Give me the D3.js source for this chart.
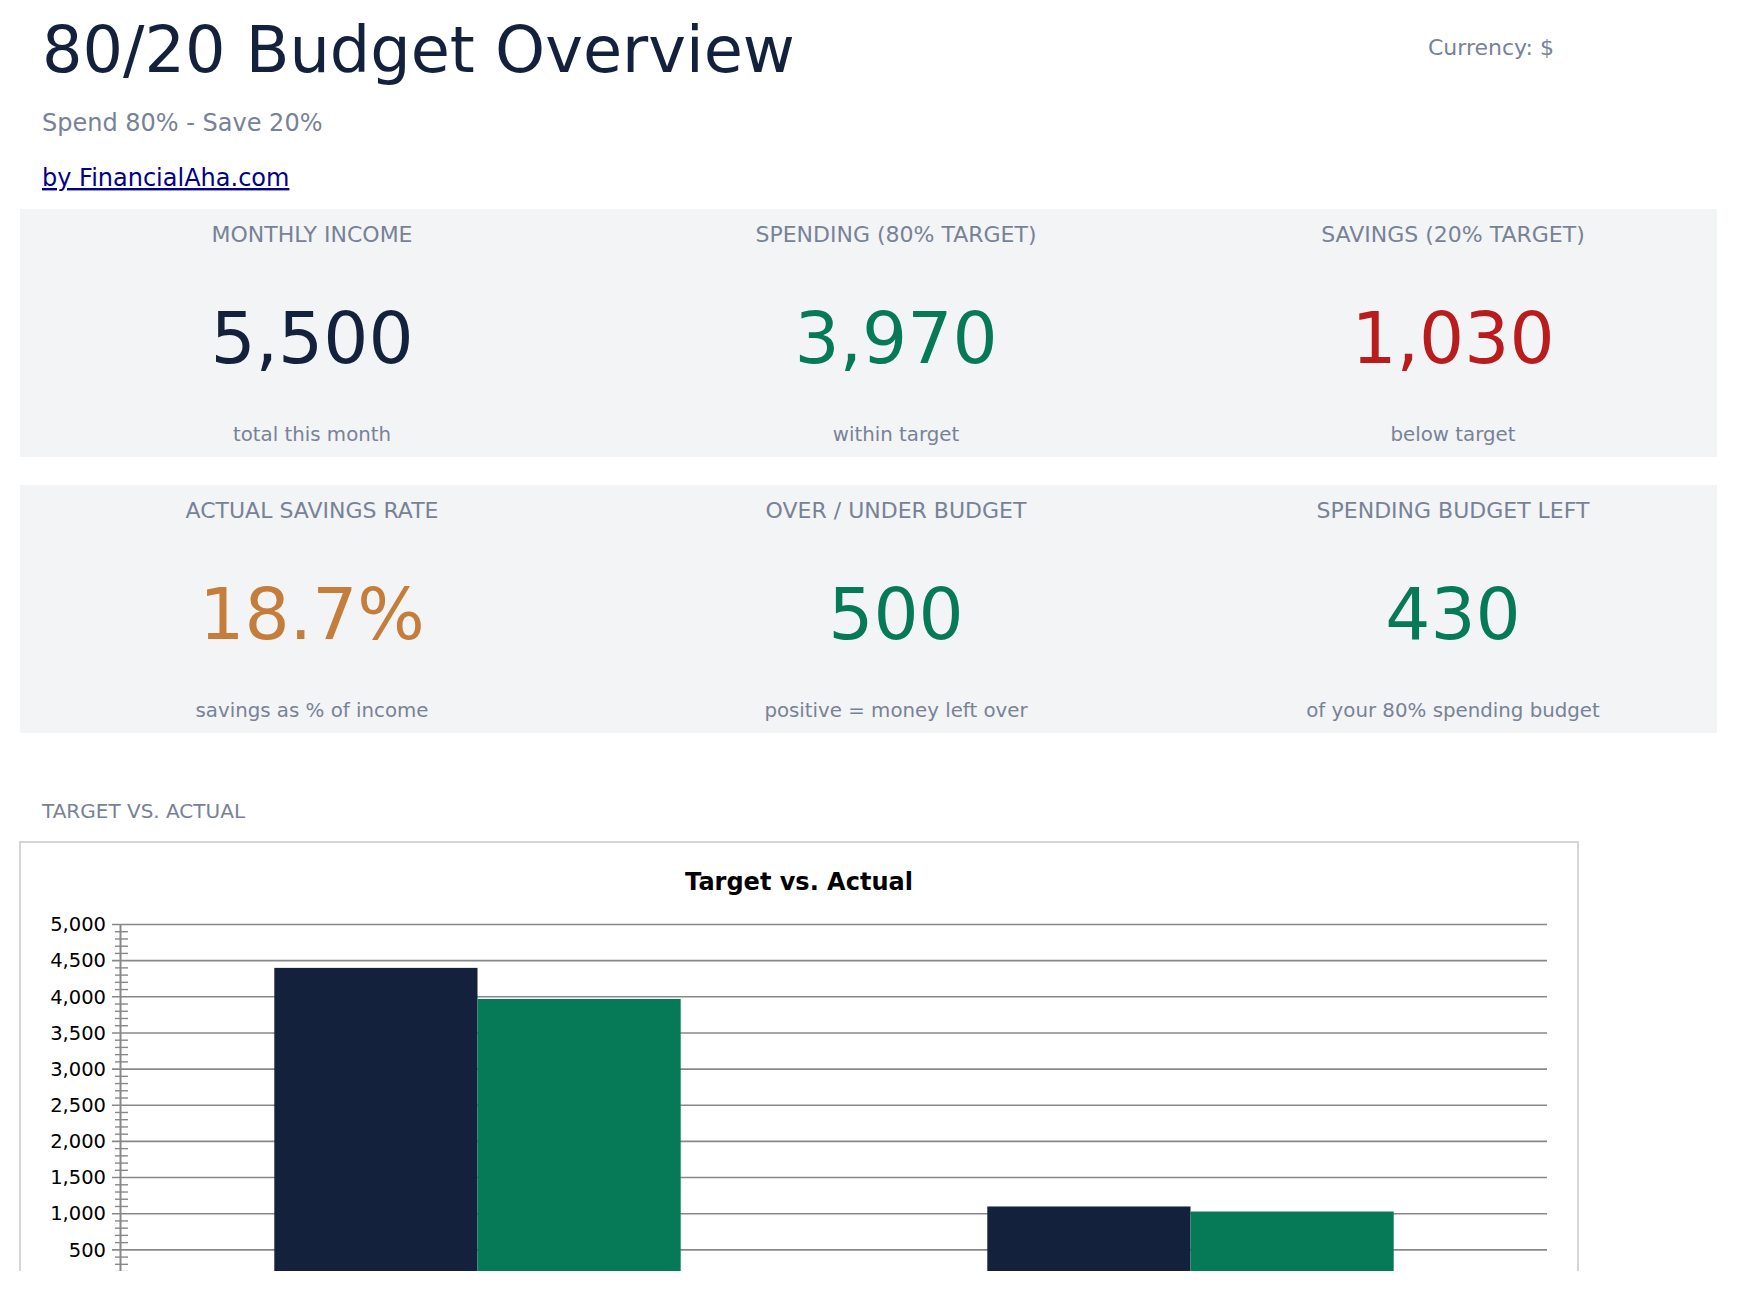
<!DOCTYPE html>
<html>
<head>
<meta charset="utf-8">
<title>80/20 Budget Overview</title>
<script src="https://cdn.jsdelivr.net/npm/d3@7"></script>
<style>
  body { margin: 0; background: #fff; font-family: "DejaVu Sans", sans-serif; }
  #page { width: 1737px; height: 1271px; overflow: hidden; }
</style>
</head>
<body>
<div id="page"></div>
<script>

// card data
var cardLabels = ["MONTHLY INCOME", "SPENDING (80% TARGET)", "SAVINGS (20% TARGET)",
                  "ACTUAL SAVINGS RATE", "OVER / UNDER BUDGET", "SPENDING BUDGET LEFT"];
var cardValues = ["5,500", "3,970", "1,030", "18.7%", "500", "430"];
var cardNotes = ["total this month", "within target", "below target",
                 "savings as % of income", "positive = money left over", "of your 80% spending budget"];
var cardTones = ["base", "good", "bad", "warn", "good", "good"];

// chart data
var categories = ["Spending (80%)", "Savings (20%)"];
var series = ["Target", "Actual"];
var targetValues = [4400, 1100];
var actualValues = [3970, 1030];
var yTicks = [500, 1000, 1500, 2000, 2500, 3000, 3500, 4000, 4500, 5000];

var navy = "#14213d", green = "#067a57", grey = "#788296";
var toneColor = {base: navy, good: green, bad: "#b91c1c", warn: "#c47d3a"};

var svg = d3.select("#page").append("svg")
    .attr("width", 1737).attr("height", 1291)
    .style("display", "block");

// header
svg.append("text").attr("x", 42).attr("y", 72)
    .style("font-size", "63.7px").style("fill", navy)
    .text("80/20 Budget Overview");
svg.append("text").attr("x", 1428).attr("y", 55)
    .style("font-size", "22px").style("fill", grey)
    .text("Currency: $");
svg.append("text").attr("x", 42).attr("y", 131)
    .style("font-size", "24px").style("fill", grey)
    .text("Spend 80% - Save 20%");
svg.append("a").attr("href", "https://financialaha.com")
  .append("text").attr("x", 42).attr("y", 186)
    .style("font-size", "24px").style("fill", "#00008b")
    .style("text-decoration", "underline")
    .text("by FinancialAha.com");

// KPI cards, two rows of three
var colX = d3.scaleOrdinal([0, 1, 2], [312, 896, 1453]);
var rowY = d3.scaleOrdinal([0, 1], [209, 485]);

svg.selectAll("rect.card").data([0, 1]).enter().append("rect")
    .attr("class", "card")
    .attr("x", 20).attr("y", function(r){ return rowY(r); })
    .attr("width", 1697).attr("height", 248)
    .style("fill", "#f3f4f6");

var cards = svg.selectAll("g.kpi").data(cardLabels).enter().append("g")
    .attr("class", "kpi")
    .attr("transform", function(d, i){
        return "translate(" + colX(i % 3) + "," + rowY(Math.floor(i / 3)) + ")";
    })
    .style("text-anchor", "middle");

cards.append("text").attr("y", 33)
    .style("font-size", "22px").style("fill", grey)
    .text(function(d){ return d; });
cards.append("text").attr("y", 154)
    .style("font-size", "71px")
    .style("fill", function(d, i){ return toneColor[cardTones[i]]; })
    .text(function(d, i){ return cardValues[i]; });
cards.append("text").attr("y", 232)
    .style("font-size", "19.8px").style("fill", grey)
    .text(function(d, i){ return cardNotes[i]; });

// chart section
svg.append("text").attr("x", 42).attr("y", 818)
    .style("font-size", "20px").style("fill", grey)
    .text("TARGET VS. ACTUAL");

svg.append("rect")
    .attr("x", 20).attr("y", 842).attr("width", 1558).attr("height", 700)
    .style("fill", "#fff").style("stroke", "#d6d6d6").style("stroke-width", 2);

svg.append("text").attr("x", 799).attr("y", 890)
    .style("text-anchor", "middle").style("font-weight", "bold")
    .style("font-size", "24px").style("fill", "#000")
    .text("Target vs. Actual");

var y = d3.scaleLinear().domain([0, 5000]).range([1286, 924.5]);
var x0 = d3.scaleBand().domain(categories).range([121, 1547])
    .paddingInner(0.43).paddingOuter(0.215);
var x1 = d3.scaleBand().domain(series).range([0, x0.bandwidth()]);
var fill = d3.scaleOrdinal(series, [navy, green]);

// gridlines
svg.append("g").selectAll("line").data(yTicks).enter().append("line")
    .attr("x1", 112).attr("x2", 1547)
    .attr("y1", function(d){ return y(d); }).attr("y2", function(d){ return y(d); })
    .style("stroke", "#888").style("stroke-width", 1.6);

// y axis, labels only (grid drawn above)
var yAxis = svg.append("g").attr("transform", "translate(114,0)")
    .call(d3.axisLeft(y).tickValues(yTicks).tickSize(0).tickPadding(8)
        .tickFormat(d3.format(",")));
yAxis.select(".domain").remove();
yAxis.selectAll("text").style("font-size", "19.5px").style("font-family", "DejaVu Sans").style("fill", "#000");

// minor ticks every 100
var minor = d3.range(100, 5000, 100).filter(function(v){ return v % 500 !== 0; });
svg.append("g").selectAll("line").data(minor).enter().append("line")
    .attr("x1", 115).attr("x2", 128)
    .attr("y1", function(d){ return y(d); }).attr("y2", function(d){ return y(d); })
    .style("stroke", "#888").style("stroke-width", 1.4);

// bars
var rows = categories.map(function(c, i){
    return {cat: c, vals: [{s: "Target", v: targetValues[i]}, {s: "Actual", v: actualValues[i]}]};
});
svg.append("g").selectAll("g").data(rows).enter().append("g")
    .attr("transform", function(d){ return "translate(" + x0(d.cat) + ",0)"; })
  .selectAll("rect").data(function(d){ return d.vals; }).enter().append("rect")
    .attr("x", function(d){ return x1(d.s); })
    .attr("width", x1.bandwidth())
    .attr("y", function(d){ return y(d.v); })
    .attr("height", function(d){ return y(0) - y(d.v); })
    .style("fill", function(d){ return fill(d.s); });

// axis line
svg.append("line").attr("x1", 120.5).attr("x2", 120.5)
    .attr("y1", 924).attr("y2", y(0))
    .style("stroke", "#888").style("stroke-width", 2);

</script>
</body>
</html>
